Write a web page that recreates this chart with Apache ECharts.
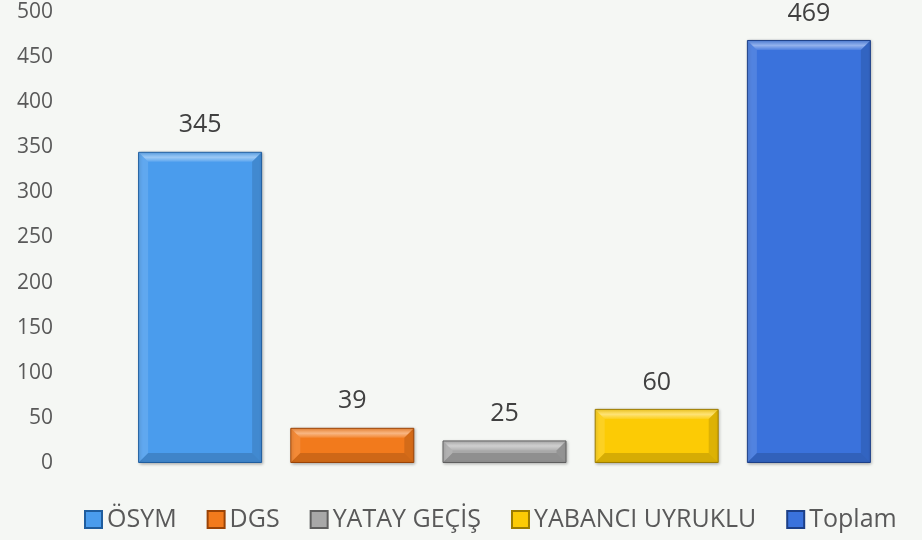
<!DOCTYPE html>
<html>
<head>
<meta charset="utf-8">
<script src="https://cdn.jsdelivr.net/npm/echarts@6/dist/echarts.min.js"></script>
<style>
html,body{margin:0;padding:0;background:#f5f7f4;}
#main{width:922px;height:540px;}
</style>
</head>
<body>
<div id="main"></div>
<script>
(function(){
	var categories = ['ÖSYM', 'DGS', 'YATAY GEÇİŞ', 'YABANCI UYRUKLU', 'Toplam'];
	var values = [345, 39, 25, 60, 469];
	var yTicks = { min: 0, max: 500, interval: 50 };

	// fill, border
	var colors = [
		['#4a9ced', '#1f5d9e'],
		['#f27a1c', '#9a4306'],
		['#a8a8a8', '#5e5e5e'],
		['#fccb05', '#9c7c00'],
		['#3a72dc', '#1c3f87']
	];

	var chart = echarts.init(document.getElementById('main'));

	var series = categories.map(function(name, i){
		var data = categories.map(function(c, j){ return j == i ? values[i] : null; });
		return {
			name: name,
			type: 'bar',
			data: data,
			barWidth: 124,
			barGap: '-100%',
			label: {
				show: true,
				position: 'top',
				distance: 14,
				color: '#404040',
				fontSize: 25,
				fontFamily: 'Open Sans'
			},
			itemStyle: {
				color: colors[i][0],
				borderColor: colors[i][1],
				borderWidth: 1,
				shadowColor: 'rgba(0,0,0,0.25)',
				shadowBlur: 3,
				shadowOffsetX: 1,
				shadowOffsetY: 1
			}
		};
	});

	// bevel highlight / shade on top of each bar
	series.push({
		type: 'custom',
		silent: true,
		z: 5,
		data: values.map(function(v, i){ return [i, v]; }),
		renderItem: function(params, api){
			var top = api.coord([api.value(0), api.value(1)]);
			var bot = api.coord([api.value(0), 0]);
			var w = 122;
			var x0 = top[0] - w / 2, x1 = top[0] + w / 2;
			var y0 = top[1] + 1, y1 = bot[1] - 1;
			var b = Math.min(9, (y1 - y0) / 2);
			return {
				type: 'group',
				children: [
					{ type: 'polygon', shape: { points: [[x0, y0], [x1, y0], [x1 - b, y0 + b], [x0 + b, y0 + b]] },
						style: { fill: new echarts.graphic.LinearGradient(0, 0, 0, 1, [
							{ offset: 0, color: 'rgba(255,255,255,0.15)' },
							{ offset: 0.5, color: 'rgba(255,255,255,0.45)' },
							{ offset: 1, color: 'rgba(255,255,255,0.1)' }]) } },
					{ type: 'polygon', shape: { points: [[x0, y0], [x0 + b, y0 + b], [x0 + b, y1 - b], [x0, y1]] },
						style: { fill: 'rgba(255,255,255,0.12)' } },
					{ type: 'polygon', shape: { points: [[x1, y0], [x1 - b, y0 + b], [x1 - b, y1 - b], [x1, y1]] },
						style: { fill: 'rgba(0,0,0,0.12)' } },
					{ type: 'polygon', shape: { points: [[x0, y1], [x0 + b, y1 - b], [x1 - b, y1 - b], [x1, y1]] },
						style: { fill: 'rgba(0,0,0,0.15)' } }
				]
			};
		}
	});

	var option = {
		backgroundColor: '#f5f7f4',
		animation: false,
		color: colors.map(function(c){ return c[0]; }),
		grid: { left: 124, right: 37, top: 12, bottom: 77 },
		legend: {
			top: 502,
			left: 79,
			itemWidth: 17,
			itemHeight: 17,
			itemGap: 30,
			icon: 'rect',
			data: categories,
			textStyle: { color: '#595959', fontSize: 25, fontFamily: 'Open Sans' }
		},
		xAxis: {
			type: 'category',
			data: categories,
			axisLine: { show: false },
			axisTick: { show: false },
			axisLabel: { show: false },
			splitLine: { show: false }
		},
		yAxis: {
			type: 'value',
			min: yTicks.min,
			max: yTicks.max,
			interval: yTicks.interval,
			axisLine: { show: false },
			axisTick: { show: false },
			splitLine: { show: false },
			axisLabel: {
				margin: 71,
				color: '#595959',
				fontSize: 21,
				fontFamily: 'Open Sans'
			}
		},
		series: series
	};

	chart.setOption(option);
})();
</script>
</body>
</html>
